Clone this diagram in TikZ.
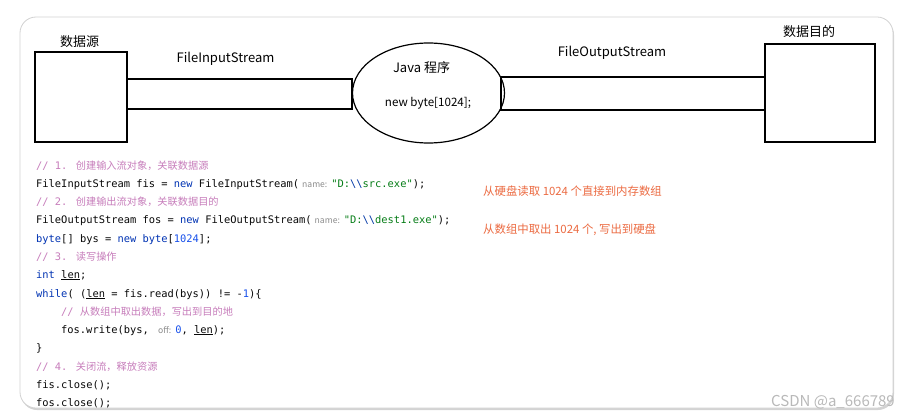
\documentclass[tikz,border=0pt]{standalone}
\usepackage{fontspec}
\usepackage{xcolor}
\usetikzlibrary{shapes.geometric,positioning,shadows}
\setmainfont{Noto Sans CJK SC}
\newfontfamily\codefont{DejaVu Sans Mono}
\newfontfamily\cjkfont{Noto Sans CJK SC}

\definecolor{kwblue}{HTML}{0033B3}
\definecolor{strgreen}{HTML}{067D17}
\definecolor{escblue}{HTML}{0037A6}
\definecolor{numblue}{HTML}{1750EB}
\definecolor{cmtpink}{HTML}{C77DBB}
\definecolor{hintgray}{HTML}{8C8C8C}
\definecolor{noteorange}{HTML}{EC6B42}
\definecolor{codeblack}{HTML}{080808}

% code colouring
\newcommand{\kw}[1]{\textcolor{kwblue}{#1}}
\newcommand{\str}[1]{\textcolor{strgreen}{#1}}
\newcommand{\esc}[1]{\textcolor{escblue}{#1}}
\newcommand{\nm}[1]{\textcolor{numblue}{#1}}
\newcommand{\ul}[1]{\underline{#1}}
\newcommand{\cmt}[2]{\textcolor{cmtpink}{#1{\cjkfont\fontsize{10.2}{12}\selectfont #2}}}
\newcommand{\hint}[1]{\hspace{3pt}{\cjkfont\fontsize{8.6}{10}\selectfont\textcolor{hintgray}{#1}}\hspace{4pt}}

\begin{document}
\begin{tikzpicture}[
    x=1pt, y=-1pt,
    box/.style={draw, line width=1.4pt, inner sep=0pt},
    pipe/.style={draw, line width=1.4pt},
    lbl/.style={inner sep=0pt, font=\fontsize{13}{15}\selectfont},
    codeline/.style={anchor=base west, inner sep=0pt, text=codeblack, font=\codefont\fontsize{10.4}{12}\selectfont},
    note/.style={anchor=west, inner sep=0pt, text=noteorange, font=\fontsize{11.4}{13}\selectfont}
]
    \useasboundingbox (0,0) rectangle (912,417);
    % panel
    \fill[white, rounded corners=16pt, drop shadow={shadow xshift=1pt, shadow yshift=-2pt, opacity=0.35}] (20,17) rectangle (893,408);
    \draw[gray!35, line width=0.8pt, rounded corners=16pt] (20,17) rectangle (893,408);

    % source, program, destination
    \node[box, minimum width=92pt, minimum height=90pt] (src) at (81,97) {};
    \node[box, minimum width=110pt, minimum height=98pt] (dst) at (820,93) {};

    % streams
    \draw[pipe] (src.east |- 0,79) rectangle (352,109) coordinate (inr);
    \draw[pipe] (501,77) coordinate (outl) rectangle (dst.west |- 0,110);
    \node[box, ellipse, fill=white, line width=1.2pt, minimum width=152pt, minimum height=100pt] (prog) at (428.5,93) {};
    \draw[pipe] (outl) -- (outl |- 0,110);
    \draw[pipe] (inr |- 0,79) -- (inr);

    \node[lbl] (srclbl) at (79.5,42) {数据源};
    \node[lbl] (fislbl) at (225.5,59) {FileInputStream};
    \node[lbl] (foslbl) at (612,53) {FileOutputStream};
    \node[lbl] (dstlbl) at (809,32) {数据目的};
    \node[lbl] (javalbl) at (421.5,68) {Java 程序};
    \node[lbl, font=\fontsize{11.6}{13}\selectfont] (buflbl) at (428,103) {new byte[1024];};

    % code
    \begin{scope}
    \clip (20,17) rectangle (893,407);
    \node[codeline] (l1) at (36,169) {\cmt{// 1. }{创建输入流对象，关联数据源}};
    \node[codeline] (l2) at (36,187) {FileInputStream fis = \kw{new} FileInputStream(\hint{name:}\str{"D:}\esc{\textbackslash\textbackslash}\str{src.exe"});};
    \node[codeline] (l3) at (36,205) {\cmt{// 2. }{创建输出流对象，关联数据目的}};
    \node[codeline] (l4) at (36,223) {FileOutputStream fos = \kw{new} FileOutputStream(\hint{name:}\str{"D:}\esc{\textbackslash\textbackslash}\str{dest1.exe"});};
    \node[codeline] (l5) at (36,242) {\kw{byte}[] bys = \kw{new} \kw{byte}[\nm{1024}];};
    \node[codeline] (l6) at (36,260) {\cmt{// 3. }{读写操作}};
    \node[codeline] (l7) at (36,278) {\kw{int} \ul{len};};
    \node[codeline] (l8) at (36,297) {\kw{while}( (\ul{len} = fis.read(bys)) != -\nm{1})\{};
    \node[codeline] (l9) at (61,315) {\cmt{// }{从数组中取出数据，写出到目的地}};
    \node[codeline] (l10) at (61,333) {fos.write(bys, \hint{off:}\nm{0}, \ul{len});};
    \node[codeline] (l11) at (36,351) {\}};
    \node[codeline] (l12) at (36,370) {\cmt{// 4. }{关闭流，释放资源}};
    \node[codeline] (l13) at (36,388) {fis.close();};
    \node[codeline] (l14) at (36,406) {fos.close();};
    \end{scope}

    % notes
    \node[note] (readnote) at (483,191) {从硬盘读取 1024 个直接到内存数组};
    \node[note] (writenote) at (483,230) {从数组中取出 1024 个, 写出到硬盘};

    % watermark
    \node[inner sep=0pt, text=gray!55, font=\fontsize{15}{17}\selectfont] (mark) at (833,402) {CSDN @a\_666789};
\end{tikzpicture}
\end{document}
